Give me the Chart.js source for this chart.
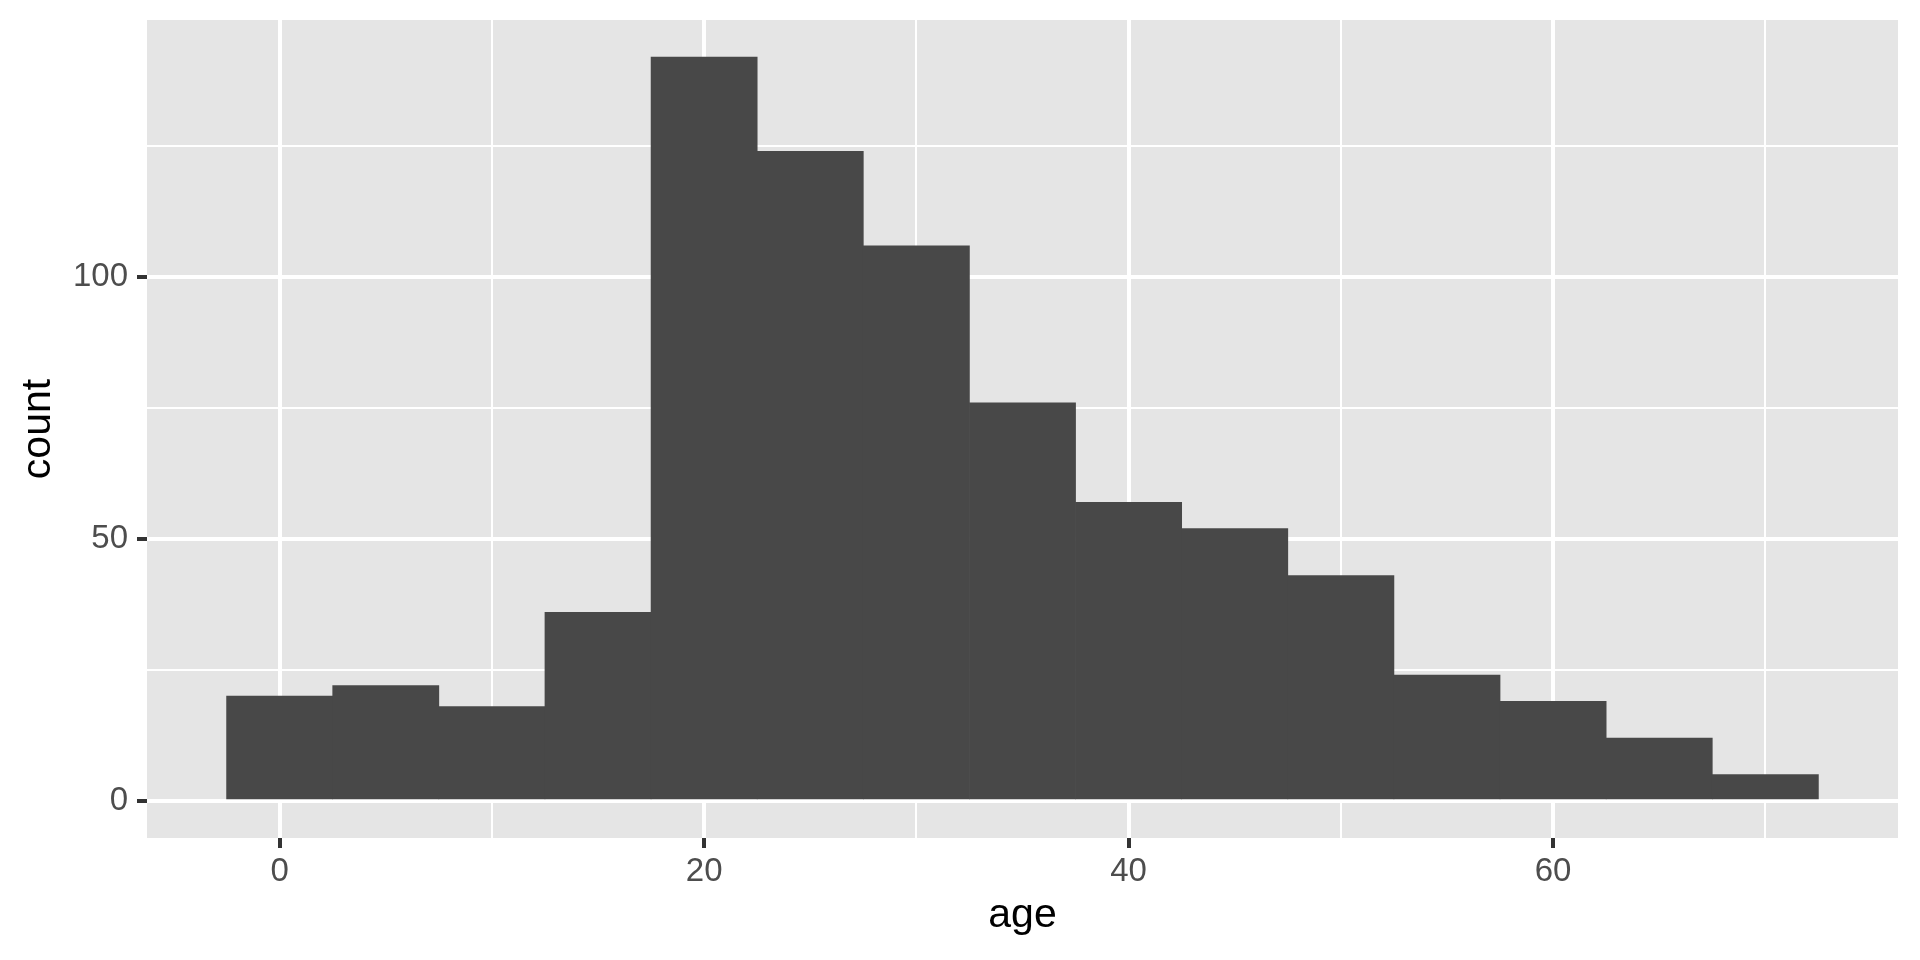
<!DOCTYPE html>
<html>
<head>
<meta charset="utf-8">
<title>age histogram</title>
<script src="https://cdn.jsdelivr.net/npm/chart.js@4.4.1/dist/chart.umd.min.js"></script>
<style>
  html, body { margin: 0; padding: 0; background: #ffffff; }
</style>
</head>
<body>
<canvas id="ageChart" width="1920" height="960"></canvas>
<script>
// histogram of age, bins of width 5 centred on 0, 5, ..., 70
const binCenters = [0, 5, 10, 15, 20, 25, 30, 35, 40, 45, 50, 55, 60, 65, 70];
const counts = [20, 22, 18, 36, 142, 124, 106, 76, 57, 52, 43, 24, 19, 12, 5];
const binWidth = 5;

// axis breaks (ggplot style: labelled majors, unlabelled minors)
const xMajorTicks = [0, 20, 40, 60];
const xMinorTicks = [10, 30, 50, 70];
const yMajorTicks = [0, 50, 100];
const yMinorTicks = [25, 75, 125];

// ggplot pads each axis by 5% of the data range
const xLo = binCenters[0] - binWidth / 2;
const xHi = binCenters[binCenters.length - 1] + binWidth / 2;
const yHi = Math.max(...counts);
const xPad = (xHi - xLo) * 0.05;
const yPad = yHi * 0.05;

Chart.defaults.font.family = '"Liberation Sans", Arial, Helvetica, sans-serif';

// grey panel behind the grid
const panelBackground = {
  id: 'panelBackground',
  beforeDraw(chart) {
    const { ctx, chartArea } = chart;
    ctx.save();
    ctx.fillStyle = '#E5E5E5';
    ctx.fillRect(chartArea.left, chartArea.top, chartArea.right - chartArea.left, chartArea.bottom - chartArea.top);
    ctx.restore();
  }
};

function setTicks(majors, minors) {
  return scale => {
    scale.ticks = [...majors, ...minors].sort((a, b) => a - b).map(v => ({ value: v }));
  };
}

function isMajor(majors, ctx) {
  return !!(ctx && ctx.tick && majors.includes(ctx.tick.value));
}

function gridFor(majors) {
  return {
    offset: false,
    color: '#FFFFFF',
    lineWidth: ctx => isMajor(majors, ctx) ? 4 : 2,
    drawTicks: true,
    tickLength: 10,
    tickWidth: 4,
    tickColor: ctx => isMajor(majors, ctx) ? '#333333' : 'rgba(0,0,0,0)'
  };
}

// fixed axis box sizes, no extra room for half tick labels at the ends
function fixSize(size) {
  return scale => {
    if (scale.isHorizontal()) scale.height = size;
    else scale.width = size;
    scale.paddingTop = 0;
    scale.paddingBottom = 0;
    scale.paddingLeft = 0;
    scale.paddingRight = 0;
  };
}

const ctx = document.getElementById('ageChart').getContext('2d');
const ageChart = new Chart(ctx, {
  type: 'bar',
  data: {
    datasets: [{
      label: 'count',
      data: binCenters.map((x, i) => ({ x: x, y: counts[i] })),
      backgroundColor: '#484848',
      borderWidth: 0,
      barPercentage: 1,
      categoryPercentage: 1,
      grouped: false
    }]
  },
  options: {
    responsive: false,
    animation: false,
    devicePixelRatio: 1,
    layout: {
      padding: { top: 20, right: 22, bottom: 0, left: 0 }
    },
    plugins: {
      legend: { display: false },
      tooltip: { enabled: false }
    },
    scales: {
      x: {
        type: 'linear',
        offset: false,
        min: xLo - xPad,
        max: xHi + xPad,
        afterBuildTicks: setTicks(xMajorTicks, xMinorTicks),
        afterFit: fixSize(122),
        grid: gridFor(xMajorTicks),
        border: { display: false },
        ticks: {
          autoSkip: false,
          maxRotation: 0,
          padding: 4,
          color: '#4D4D4D',
          font: { size: 33 },
          callback: v => xMajorTicks.includes(v) ? String(v) : ''
        },
        title: {
          display: true,
          text: 'age',
          color: '#000000',
          font: { size: 41 },
          padding: { top: 0, bottom: 20 }
        }
      },
      y: {
        type: 'linear',
        min: -yPad,
        max: yHi + yPad,
        afterBuildTicks: setTicks(yMajorTicks, yMinorTicks),
        afterFit: fixSize(147),
        grid: gridFor(yMajorTicks),
        border: { display: false },
        ticks: {
          autoSkip: false,
          padding: 9,
          color: '#4D4D4D',
          font: { size: 33 },
          callback: v => yMajorTicks.includes(v) ? String(v) : ''
        },
        title: {
          display: true,
          text: 'count',
          color: '#000000',
          font: { size: 41 },
          padding: { top: 14, bottom: 0 }
        }
      }
    }
  },
  plugins: [panelBackground]
});
</script>
</body>
</html>
